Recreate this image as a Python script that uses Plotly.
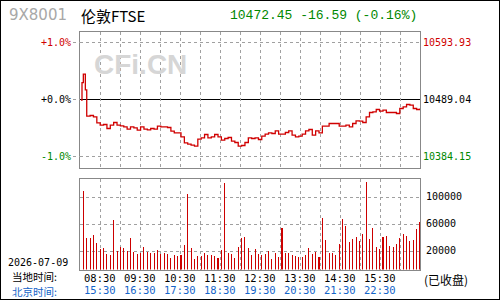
import numpy as np
import plotly.graph_objects as go

# ---------------- data ----------------
symbol = "9X8001"
name = "伦敦FTSE"
prev_close = 10489.04
last_price = 10472.45
change = -16.59
change_pct = -0.16
date_str = "2026-07-09"

local_ticks = ["08:30", "09:30", "10:30", "11:30", "12:30", "13:30", "14:30", "15:30"]
beijing_ticks = ["15:30", "16:30", "17:30", "18:30", "19:30", "20:30", "21:30", "22:30"]
volume_ticks = [20000, 60000, 100000]

# opening minutes (minutes after 08:00) and prices
open_minutes = [1.5, 3, 5, 8]
open_prices = [10488.0, 10520.0, 10535.9, 10506.6]

# price after each later 5-minute step
prices = [
    10458.37, 10459.60, 10457.14, 10446.10, 10441.81, 10443.03, 10435.67, 10441.81, 10446.72, 10441.81,
    10440.58, 10438.74, 10434.45, 10438.74, 10436.90, 10432.61, 10438.74, 10434.45, 10433.22, 10435.67,
    10434.45, 10439.97, 10438.74, 10438.74, 10437.51, 10430.77, 10427.70, 10427.70, 10420.34, 10409.30,
    10406.84, 10405.00, 10403.16, 10416.05, 10418.50, 10424.63, 10418.50, 10420.34, 10424.63, 10420.34,
    10414.21, 10417.27, 10419.11, 10412.36, 10409.91, 10403.16, 10404.39, 10409.91, 10418.50, 10417.27,
    10418.50, 10415.43, 10421.57, 10425.25, 10427.70, 10426.47, 10431.38, 10425.25, 10425.25, 10428.31,
    10431.38, 10423.41, 10420.34, 10421.57, 10425.25, 10431.38, 10433.83, 10423.41, 10431.38, 10427.70,
    10439.97, 10439.97, 10444.88, 10444.88, 10444.88, 10439.97, 10439.97, 10441.81, 10438.74, 10444.88,
    10449.78, 10449.17, 10446.72, 10457.14, 10465.12, 10466.34, 10470.64, 10467.57, 10469.41, 10465.12,
    10465.12, 10465.12, 10463.28, 10472.48, 10475.55, 10479.84, 10478.61, 10472.48, 10470.64, 10472.45,
]

volumes = [
    109400, 39760, 39760, 44200, 32350, 23460, 24900, 16000, 14570, 66400,
    20500, 26900, 24900, 20500, 39760, 19000, 16000, 17500, 26400, 19000,
    17500, 17500, 22000, 16000, 17500, 16000, 10100, 14600, 13100, 14600,
    29400, 105000, 24900, 8600, 13100, 13100, 17500, 14600, 14600, 13100,
    10100, 22000, 121000, 17500, 16000, 10100, 26400, 39760, 41200, 24900,
    14600, 23500, 16000, 14600, 16000, 20500, 8600, 17500, 11600, 54600,
    17500, 17500, 14600, 13100, 12100, 11600, 14600, 24900, 16000, 19000,
    11600, 69400, 36800, 17500, 17500, 14600, 30900, 67900, 57500, 33800,
    38300, 41200, 35300, 45700, 122800, 38300, 54600, 26400, 23500, 41200,
    42700, 27900, 26400, 30900, 39760, 45700, 42700, 35300, 36800, 53100,
    63500,
]

# ---------------- layout helpers ----------------
W, H = 500, 300
SESSION = 510  # minutes 08:00 - 16:30
PX_L, PX_R = 80, 420
TOP_Y0, TOP_Y1 = 31.5, 167.5
BOT_Y0, BOT_Y1 = 178.5, 269.5
VOL_FLOOR, VOL_CEIL = -7000, 127800


def px(x):
    return x / W


def py(y):
    return 1 - y / H


def t2px(t):
    return PX_L + (PX_R - PX_L) * t / SESSION


n = len(volumes)
bar_t = np.arange(1, n + 1) * SESSION / n
price_t = list(open_minutes) + list(bar_t[1:])
price_y = list(open_prices) + list(prices)

half = (TOP_Y1 - TOP_Y0) / 2 / 57.0 / 100.0
p_lo, p_hi = prev_close * (1 - half), prev_close * (1 + half)
up1, dn1 = prev_close * 1.01, prev_close * 0.99

RED = "#d00000"
GREEN = "#008800"
GRID = "#a0a0a0"
FRAME = "#888888"
MONO = "DejaVu Sans Mono"
CJK = "Noto Sans CJK SC"

fig = go.Figure()
fig.add_trace(go.Scatter(
    x=price_t, y=price_y, mode="lines",
    line=dict(color=RED, width=1.3, shape="hv"),
    xaxis="x", yaxis="y", hoverinfo="skip", showlegend=False,
))
vol_arr = np.array(volumes, dtype=float)
fig.add_trace(go.Bar(
    x=bar_t, y=vol_arr - VOL_FLOOR, base=VOL_FLOOR, width=1.6,
    marker=dict(color="#cc0000", line=dict(width=0)),
    xaxis="x2", yaxis="y2", hoverinfo="skip", showlegend=False,
))

grid_t = list(range(30, SESSION, 30))
xax = dict(
    domain=[px(PX_L), px(PX_R)], range=[0, SESSION],
    tickvals=grid_t, showticklabels=False, ticks="",
    showgrid=True, gridcolor=GRID, griddash="dot", gridwidth=1,
    showline=True, linecolor=FRAME, linewidth=1, mirror=True, zeroline=False,
    fixedrange=True,
)
fig.update_layout(
    width=W, height=H,
    margin=dict(l=0, r=0, t=0, b=0),
    paper_bgcolor="white", plot_bgcolor="white",
    bargap=0,
    xaxis=dict(xax, anchor="y"),
    xaxis2=dict(xax, anchor="y2"),
    yaxis=dict(
        domain=[py(TOP_Y1), py(TOP_Y0)], range=[p_lo, p_hi], anchor="x",
        tickvals=[dn1, up1], showticklabels=False, ticks="",
        showgrid=True, gridcolor=GRID, griddash="dot", gridwidth=1,
        showline=True, linecolor=FRAME, linewidth=1, mirror=True, zeroline=False,
    ),
    yaxis2=dict(
        domain=[py(BOT_Y1), py(BOT_Y0)], range=[VOL_FLOOR, VOL_CEIL], anchor="x2",
        tickvals=volume_ticks, showticklabels=False, ticks="",
        showgrid=True, gridcolor=GRID, griddash="dot", gridwidth=1,
        showline=True, linecolor=FRAME, linewidth=1, mirror=True, zeroline=False,
    ),
)

shapes = []
# zero (previous close) line
shapes.append(dict(type="line", xref="x", yref="y", x0=0, x1=SESSION, y0=prev_close, y1=prev_close,
                   line=dict(color="black", width=1.2), layer="below"))
# left dotted stubs
for lv in (up1, prev_close, dn1):
    shapes.append(dict(type="line", xref="paper", yref="y", x0=px(73), x1=px(PX_L), y0=lv, y1=lv,
                       line=dict(color=GRID, width=1, dash="dot")))
# outer frame
shapes.append(dict(type="rect", xref="paper", yref="paper", x0=0, x1=1, y0=0, y1=1,
                   line=dict(color="black", width=2)))
fig.update_layout(shapes=shapes)

ann = []


def text(x, y, s, color="black", size=10, family=MONO, xanchor="left", yref="paper", yv=None):
    ann.append(dict(x=x, y=yv if yv is not None else y, xref="paper", yref=yref, text=s,
                    showarrow=False, xanchor=xanchor, yanchor="middle",
                    font=dict(color=color, size=size, family=family), borderpad=0))


# header
text(px(8), py(15), symbol, color="#a8a8a8", size=15, family="DejaVu Sans")
text(px(80), py(15), name, color="black", size=15, family=CJK)
text(px(229), py(15), f"{last_price:.2f} {change:.2f} ({change_pct:.2f}%)", color=GREEN, size=13,
     family="Liberation Mono")

# watermark
text(px(140), py(64), "<b>CFi.CN</b>", color="#d6d6d6", size=28, family="Liberation Sans", xanchor="center")

# left percent labels
text(px(72), None, "+1.0%", color=RED, yref="y", yv=up1, xanchor="right")
text(px(72), None, "+0.0%", color="black", yref="y", yv=prev_close, xanchor="right")
text(px(72), None, "-1.0%", color=GREEN, yref="y", yv=dn1, xanchor="right")
# right price labels
text(px(422), None, f"{up1:.2f}", color=RED, yref="y", yv=up1)
text(px(422), None, f"{prev_close:.2f}", color="black", yref="y", yv=prev_close)
text(px(422), None, f"{dn1:.2f}", color=GREEN, yref="y", yv=dn1)
# volume labels
for v in volume_ticks:
    text(px(425), None, str(v), color="black", yref="y2", yv=v + 1000)

# bottom texts
text(px(7), py(262.3), date_str, color="black", size=10)
text(px(11), py(276.4), "当地时间:", color="black", size=10.5, family=CJK)
text(px(11), py(291.8), "北京时间:", color="#1464c8", size=10.5, family=CJK)
for k, (lt, bt) in enumerate(zip(local_ticks, beijing_ticks)):
    xx = px(t2px(30 + 60 * k))
    text(xx, py(277.5), lt, color="black", size=10.5, xanchor="center")
    text(xx, py(289.5), bt, color="#1464c8", size=10.5, xanchor="center")
text(px(423), py(279), "(已收盘)", color="black", size=12, family=CJK)

fig.update_layout(annotations=ann)
fig.write_html("out.html", include_plotlyjs=True, config={"staticPlot": True})
